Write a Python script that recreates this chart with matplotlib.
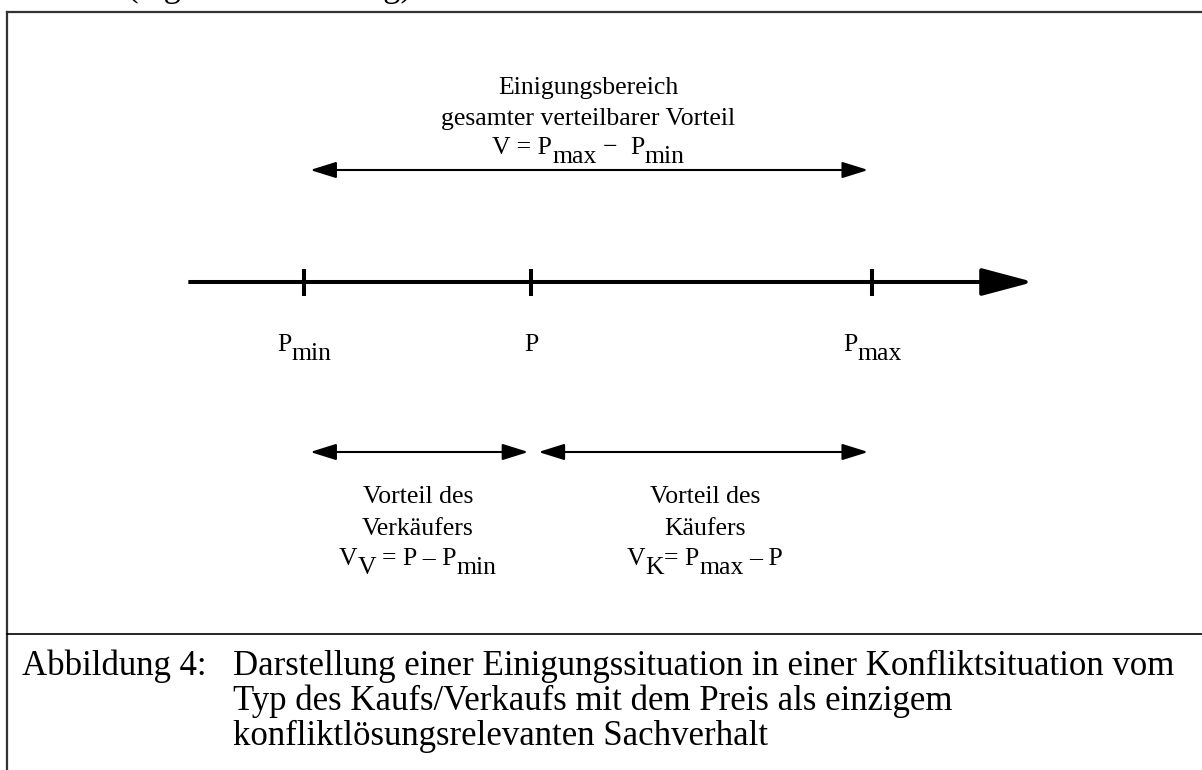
import matplotlib
matplotlib.use('Agg')
import matplotlib.pyplot as plt
from matplotlib.transforms import IdentityTransform

W, H = 1202, 770

# price scale: positions of the three prices on the number line
price_names = ['min', '', 'max']
price_values = [2.0, 4.0, 7.0]
axis_start, axis_end = 0.98, 8.42

top_lines = ['Einigungsbereich', 'gesamter verteilbarer Vorteil']
seller_lines = ['Vorteil des', 'Verkäufers']
buyer_lines = ['Vorteil des', 'Käufers']
caption_label = 'Abbildung 4:'
caption_lines = ['Darstellung einer Einigungssituation in einer Konfliktsituation vom',
                 'Typ des Kaufs/Verkaufs mit dem Preis als einzigem',
                 'konfliktlösungsrelevanten Sachverhalt']

# (text, subscript?, gap before in px)
top_formula = [('V = P', False, 0), ('max', True, 0), ('\u2212', False, 6), ('P', False, 13), ('min', True, 0)]
seller_formula = [('V', False, 0), ('V', True, 0), ('= P \u2013 P', False, 6), ('min', True, 0)]
buyer_formula = [('V', False, 0), ('K', True, 0), ('= P', False, 0), ('max', True, 0), ('\u2013 P', False, 6)]

FONT = 'Liberation Serif'
SMALL = 18.5
BIG = 25
UNIT = 113.6   # px per price unit
X0 = 77        # px of price 0

fig = plt.figure(figsize=(W / 100, H / 100), dpi=100)
ax = fig.add_axes([0, 0, 1, 1])
ax.set_xlim(-X0 / UNIT, (W - X0) / UNIT)
ax.set_ylim(H, 0)
ax.axis('off')
renderer = fig.canvas.get_renderer()


def px(v):
    return ax.transData.transform((v, 0))[0]


def rich(xc, base, parts, size, drop=9):
    # lay out text pieces with full-size lowered subscripts, centred on xc
    pieces = []
    total = 0
    for s, sub, gap in parts:
        t = fig.text(0, 0, s, fontsize=size, family=FONT, transform=IdentityTransform(),
                     va='baseline', ha='left')
        w = t.get_window_extent(renderer).width
        pieces.append((t, sub, gap, w))
        total += gap + w
    x = xc - total / 2
    for t, sub, gap, w in pieces:
        x += gap
        t.set_position((x, H - base - (drop if sub else 0)))
        x += w


def line_text(xc, base, s, size, ha='center'):
    fig.text(xc, H - base, s, fontsize=size, family=FONT, transform=IdentityTransform(),
             va='baseline', ha=ha)


def arrow(x0, x1, y, lw=1.5, both=True):
    style = '<|-|>,head_length=1.6,head_width=0.5' if both else '-|>,head_length=3.2,head_width=0.85'
    ax.annotate('', xy=(x1, y), xytext=(x0, y),
                arrowprops=dict(arrowstyle=style, lw=lw, color='black', mutation_scale=10,
                                shrinkA=0, shrinkB=0, capstyle='butt'))


# frame
left = (7 - X0) / UNIT
right = (W + 5 - X0) / UNIT
ax.plot([left, left], [H + 5, 12], color='#333333', lw=1.6, solid_capstyle='projecting')
ax.plot([left, right], [12, 12], color='#333333', lw=1.6, solid_capstyle='projecting')
ax.plot([left, right], [634, 634], color='black', lw=1.2)

# cut-off line above the frame
line_text(127, -4, '(eigene Darstellung)', BIG, ha='left')

# number line with ticks
AXIS_Y = 282
arrow(axis_start, axis_end, AXIS_Y, lw=2.9, both=False)
for v, name in zip(price_values, price_names):
    ax.plot([v, v], [269, 296], color='black', lw=2.9, solid_capstyle='butt')
    parts = [('P', False, 0)] + ([(name, True, 0)] if name else [])
    rich(px(v), 351, parts, SMALL)

p_min, p, p_max = price_values
arrow(p_min + 6 / UNIT, p_max - 4 / UNIT, 170)
arrow(p_min + 6 / UNIT, p - 3 / UNIT, 452)
arrow(p + 7 / UNIT, p_max - 4 / UNIT, 452)

# labels
xc = px((p_min + p_max) / 2)
line_text(xc, 94, top_lines[0], SMALL)
line_text(xc, 125, top_lines[1], SMALL)
rich(xc, 154, top_formula, SMALL)

xs = 418
line_text(xs, 503, seller_lines[0], SMALL)
line_text(xs, 535, seller_lines[1], SMALL)
rich(xs, 565, seller_formula, SMALL)

xb = 705
line_text(xb, 503, buyer_lines[0], SMALL)
line_text(xb, 535, buyer_lines[1], SMALL)
rich(xb, 565, buyer_formula, SMALL)

# caption
line_text(22, 675, caption_label, BIG, ha='left')
for i, s in enumerate(caption_lines):
    line_text(233, 675 + 35 * i, s, BIG, ha='left')

fig.savefig('out.png', dpi=100)
